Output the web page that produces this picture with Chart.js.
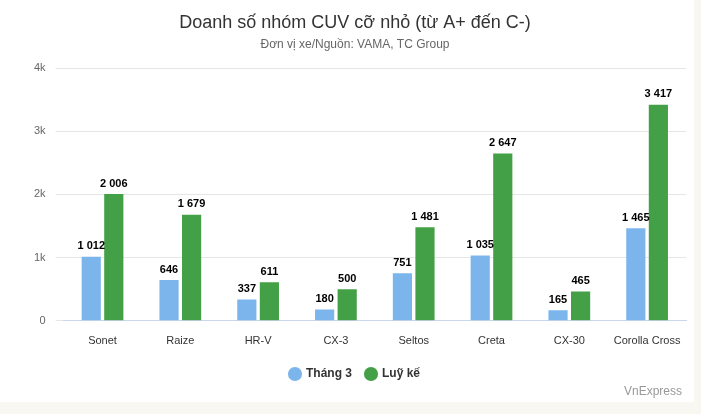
<!DOCTYPE html>
<html><head><meta charset="utf-8">
<script src="https://cdn.jsdelivr.net/npm/chart.js@4"></script>
<style>
body{margin:0;background:#f9f7f2;}
#wrap{position:absolute;left:0;top:0;width:694px;height:402px;background:#fff;}
#credit{position:absolute;right:12px;bottom:4px;font:12px "Liberation Sans",Arial,sans-serif;color:#999;}
</style></head><body>
<div id="wrap"><canvas id="c" width="694" height="402"></canvas><div id="credit">VnExpress</div></div>
<script>
var categories = ['Sonet','Raize','HR-V','CX-3','Seltos','Creta','CX-30','Corolla Cross'];
var thang3 = [1012,646,337,180,751,1035,165,1465];
var luyke = [2006,1679,611,500,1481,2647,465,3417];
var yTicks = {0:'0',1000:'1k',2000:'2k',3000:'3k',4000:'4k'};

function fmt(v){ return String(v).replace(/\B(?=(\d{3})+(?!\d))/g,' '); }

var labelsPlugin = {
  id:'barLabels',
  afterDatasetsDraw:function(chart){
    var ctx = chart.ctx;
    ctx.save();
    ctx.font = 'bold 11px "Liberation Sans", Arial, sans-serif';
    ctx.fillStyle = '#000';
    ctx.textAlign = 'center';
    ctx.textBaseline = 'bottom';
    chart.data.datasets.forEach(function(ds,i){
      chart.getDatasetMeta(i).data.forEach(function(bar,j){
        ctx.fillText(fmt(ds.data[j]), bar.x, bar.y-5);
      });
    });
    ctx.restore();
  }
};

Chart.defaults.font.family = '"Liberation Sans", Arial, sans-serif';
new Chart(document.getElementById('c'),{
  type:'bar',
  data:{labels:categories,datasets:[
    {label:'Tháng 3',data:thang3,backgroundColor:'#7cb5ec',categoryPercentage:0.58,barPercentage:0.85},
    {label:'Luỹ kế',data:luyke,backgroundColor:'#43a047',categoryPercentage:0.58,barPercentage:0.85}
  ]},
  options:{
    responsive:false,animation:false,
    layout:{padding:{left:24,right:8,top:2,bottom:12}},
    plugins:{
      title:{display:true,text:'Doanh số nhóm CUV cỡ nhỏ (từ A+ đến C-)',color:'#333',font:{size:18,weight:'normal'},padding:{top:10,bottom:4}},
      subtitle:{display:true,text:'Đơn vị xe/Nguồn: VAMA, TC Group',color:'#666',font:{size:12},padding:{bottom:16}},
      legend:{position:'bottom',labels:{usePointStyle:true,pointStyle:'circle',boxWidth:10,boxHeight:10,color:'#333',font:{size:12,weight:'bold'},padding:14}},
      tooltip:{enabled:false}
    },
    scales:{
      x:{grid:{display:false},border:{color:'#ccd6eb'},ticks:{color:'#333',font:{size:11},padding:6}},
      y:{min:0,max:4000,border:{display:false},grid:{color:'#e6e6e6'},
        ticks:{stepSize:1000,color:'#666',font:{size:11},padding:10,callback:function(v){return yTicks[v];}}}
    }
  },
  plugins:[labelsPlugin]
});
</script></body></html>
